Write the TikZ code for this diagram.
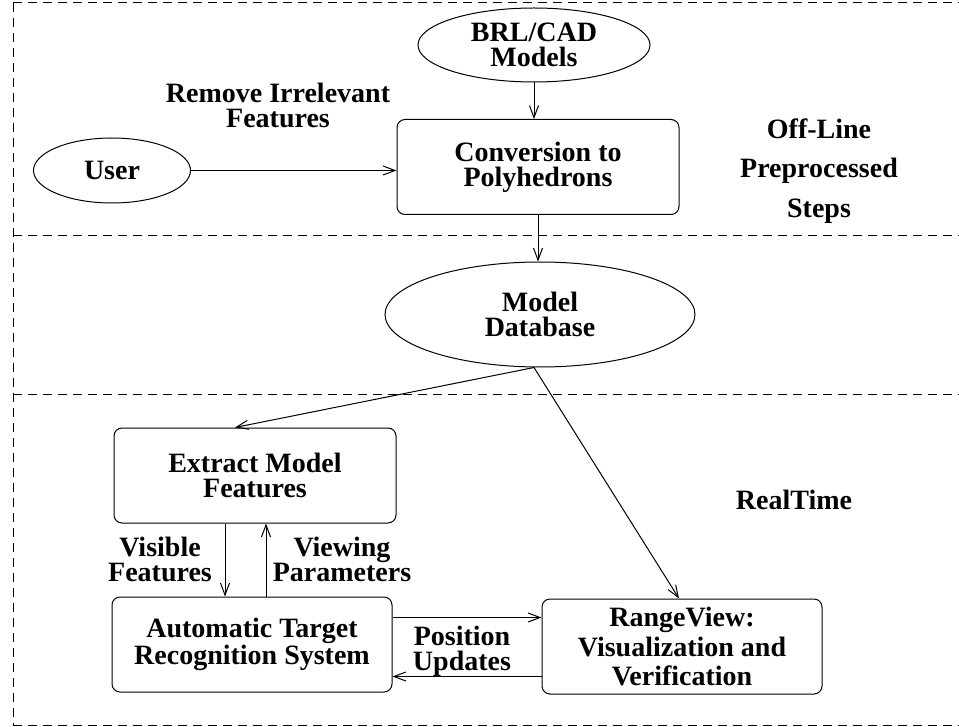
\documentclass[tikz,border=0pt]{standalone}
\usepackage{fontspec}
\setmainfont{Liberation Serif}
\usetikzlibrary{shapes.geometric,arrows.meta}
\begin{document}
\begin{tikzpicture}[x=1pt,y=-1pt,
  lbl/.style={font={\bfseries\fontsize{28}{25}\selectfont}, align=center, inner sep=0pt},
  oval/.style={lbl, ellipse, draw, line width=1pt},
  box/.style={lbl, rectangle, rounded corners=8pt, draw, line width=1pt, minimum width=281pt, minimum height=95pt},
  conn/.style={line width=1pt, -{Straight Barb[length=12pt,width=9pt]}},
  frame/.style={line width=1pt, dash pattern=on 9pt off 6pt}]
\useasboundingbox (0,0) rectangle (959,727);
% frame
\coordinate (ftl) at (13,3);
\coordinate (ftr) at (959,3);
\coordinate (fbl) at (13,725);
\coordinate (fbr) at (959,725);
\coordinate (fm1l) at (13,236);
\coordinate (fm1r) at (959,236);
\coordinate (fm2l) at (13,395);
\coordinate (fm2r) at (959,395);
\draw[frame] (ftl) -- (ftr);
\draw[frame] (ftl) -- (fbl);
\draw[frame] (fbl) -- (fbr);
\draw[frame] (fm1l) -- (fm1r);
\draw[frame] (fm2l) -- (fm2r);
% nodes
\node[oval, minimum width=232pt, minimum height=74pt] (brl) at (534,45) {BRL/CAD\\Models};
\node[box, minimum width=282pt] (conv) at (538,167) {Conversion to\\Polyhedrons};
\node[oval, minimum width=157pt, minimum height=65pt] (user) at (112,170.5) {User};
\node[oval, minimum width=310pt, minimum height=105pt] (db) at (540,314.5) {Model\\Database};
\node[box, minimum width=282pt] (ext) at (255,475.5) {Extract Model\\Features};
\node[box, minimum width=280pt] (atr) at (252,644.5) {Automatic Target\\Recognition System};
\node[box, minimum width=280pt, font={\bfseries\fontsize{28}{29.5}\selectfont}] (rv) at (682,646.5) {RangeView:\\Visualization and\\Verification};
% labels
\node[lbl] (rif) at (278,105.5) {Remove Irrelevant\\Features};
\node[lbl, font={\bfseries\fontsize{28}{39.5}\selectfont}] (off) at (819,171) {Off-Line\\Preprocessed\\Steps};
\node[lbl] (rt) at (794,499.5) {RealTime};
\node[lbl] (vis) at (160,559) {Visible\\Features};
\node[lbl] (vp) at (342,559) {Viewing\\Parameters};
\node[lbl] (pu) at (462,651) {Position\\Updates};
% connectors
\draw[conn] (brl.south) -- (brl.south |- conv.north);
\draw[conn] (user.east) -- (user.east -| conv.west);
\draw[conn] (conv.south) -- (conv.south |- db.north);
\draw[conn] ([xshift=-6pt]db.south) -- ([xshift=-20pt]ext.north);
\draw[conn] ([xshift=-6pt]db.south) -- ([xshift=-3pt]rv.north);
\draw[conn] ([xshift=-30pt]ext.south) -- ([xshift=-30pt]ext.south |- atr.north);
\draw[conn] ([xshift=11pt]ext.south |- atr.north) -- ([xshift=11pt]ext.south);
\draw[conn] ([yshift=27pt]atr.east) -- ([yshift=27pt]atr.east -| rv.west);
\draw[conn] ([yshift=-32pt]atr.east -| rv.west) -- ([yshift=-32pt]atr.east);
\end{tikzpicture}
\end{document}
